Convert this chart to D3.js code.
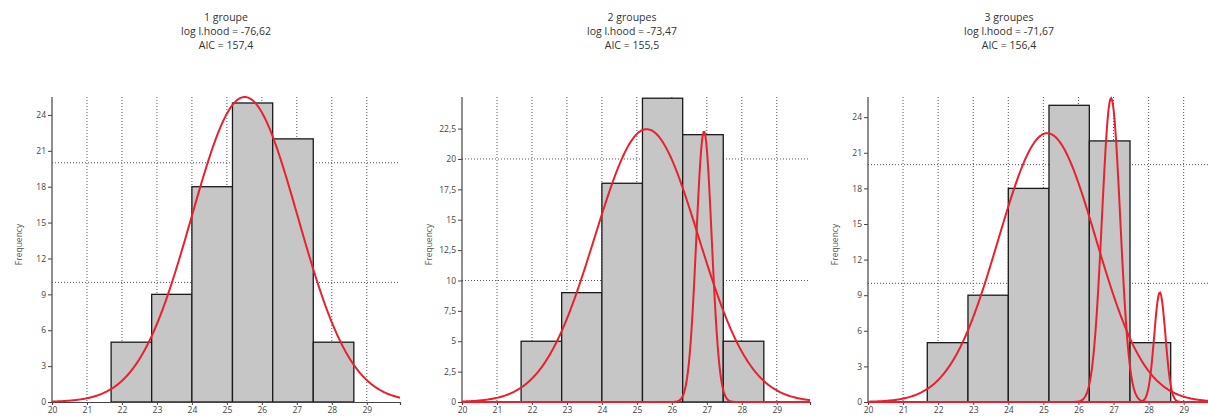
<!DOCTYPE html>
<html><head><meta charset="utf-8">
<script src="https://cdn.jsdelivr.net/npm/d3@7"></script>
<style>
html,body{margin:0;padding:0;background:#fff;}
text{font-family:"Open Sans","Noto Sans",sans-serif;}
</style></head>
<body>
<svg id="chart" width="1208" height="419"></svg>
<script>
// ---- data ----
const panelTitles = ["1 groupe", "2 groupes", "3 groupes"];
const logLik = ["-76,62", "-73,47", "-71,67"];
const aicValues = ["157,4", "155,5", "156,4"];
const binEdges = [21.69, 22.85, 24.0, 25.16, 26.31, 27.47, 28.63];
const counts = [5, 9, 18, 25, 22, 5];
const xTicks = [20, 21, 22, 23, 24, 25, 26, 27, 28, 29];
const yTicks1 = [0, 3, 6, 9, 12, 15, 18, 21, 24];
const yTicks2 = [0, 2.5, 5, 7.5, 10, 12.5, 15, 17.5, 20, 22.5];
const yTicks3 = [0, 3, 6, 9, 12, 15, 18, 21, 24];
const yGrid = [10, 20];
const yMax = [25.5, 25.1, 25.7];
// fitted normal components per panel: mean, sd, peak height (frequency)
const compMeans = [[25.51], [25.28, 26.92], [25.11, 26.93, 28.32]];
const compSds = [[1.52], [1.48, 0.22], [1.39, 0.26, 0.16]];
const compPeaks = [[25.5], [22.45, 22.25], [22.65, 25.6, 9.23]];

// ---- layout ----
const panels = [
  {x0: 52, x1: 400, titleX: 226},
  {x0: 462, x1: 810, titleX: 632},
  {x0: 868, x1: 1217, titleX: 1009}
];
const yTop = 97, yBottom = 402;
const yTicksAll = [yTicks1, yTicks2, yTicks3];
const fmt = v => String(v).replace(".", ",");

const svg = d3.select("#chart");

panels.forEach((p, i) => {
  const g = svg.append("g");
  const x = d3.scaleLinear().domain([20, 29.95]).range([p.x0, p.x1]);
  const y = d3.scaleLinear().domain([0, yMax[i]]).range([yBottom, yTop]);

  // titles
  const t = g.append("text").attr("text-anchor", "middle").attr("font-size", 10.5).attr("fill", "#333");
  [panelTitles[i], "log l.hood = " + logLik[i], "AIC = " + aicValues[i]].forEach((s, k) => {
    t.append("tspan").attr("x", p.titleX).attr("y", 21 + k * 14).text(s);
  });

  // grid
  g.append("g").selectAll("line").data(xTicks.slice(1)).join("line")
    .attr("x1", d => x(d)).attr("x2", d => x(d)).attr("y1", yTop).attr("y2", yBottom)
    .attr("stroke", "#555").attr("stroke-width", 1).attr("stroke-dasharray", "1,2");
  g.append("g").selectAll("line").data(yGrid).join("line")
    .attr("x1", p.x0).attr("x2", p.x1).attr("y1", d => y(d)).attr("y2", d => y(d))
    .attr("stroke", "#555").attr("stroke-width", 1).attr("stroke-dasharray", "1,2");

  // bars
  g.append("g").selectAll("rect").data(counts).join("rect")
    .attr("x", (d, j) => x(binEdges[j]))
    .attr("width", (d, j) => x(binEdges[j + 1]) - x(binEdges[j]))
    .attr("y", d => y(d)).attr("height", d => yBottom - y(d))
    .attr("fill", "#c6c6c6").attr("stroke", "#1a1a1a").attr("stroke-width", 1.3);

  // axes
  const yAxis = d3.axisLeft(y).tickValues(yTicksAll[i]).tickFormat(fmt).tickSize(4).tickPadding(2);
  const ya = g.append("g").attr("transform", `translate(${p.x0},0)`).call(yAxis);
  const xAxis = d3.axisBottom(x).tickValues(xTicks).tickFormat(d => d).tickSize(3).tickPadding(2);
  const xa = g.append("g").attr("transform", `translate(0,${yBottom})`).call(xAxis);
  [ya, xa].forEach(a => {
    a.select(".domain").attr("stroke", "#444").attr("stroke-width", 1.2);
    a.selectAll(".tick line").attr("stroke", "#444");
    a.selectAll(".tick text").attr("fill", "#444").attr("font-size", 8.5)
      .attr("font-family", "'Liberation Sans',Arial,sans-serif");
  });
  ya.select(".domain").attr("d", `M-0,${yTop}V${yBottom}`);

  g.append("text").attr("transform", `translate(${p.x0 - 30},${(yTop + yBottom) / 2 - 5}) rotate(-90)`)
    .attr("text-anchor", "middle").attr("font-size", 8.5).attr("fill", "#555")
    .attr("font-family", "'Liberation Sans',Arial,sans-serif").text("Frequency");

  // fitted curves
  const xs = d3.range(0, 400).map(k => 20 + k * (9.95 / 399));
  const line = d3.line().x(d => x(d[0])).y(d => y(d[1])).curve(d3.curveLinear);
  compMeans[i].forEach((m, c) => {
    const s = compSds[i][c], h = compPeaks[i][c];
    const pts = xs.map(v => [v, h * Math.exp(-((v - m) ** 2) / (2 * s * s))]);
    g.append("path").datum(pts).attr("d", line)
      .attr("fill", "none").attr("stroke", "#e8212f").attr("stroke-width", 2);
  });
});
</script>
</body></html>
